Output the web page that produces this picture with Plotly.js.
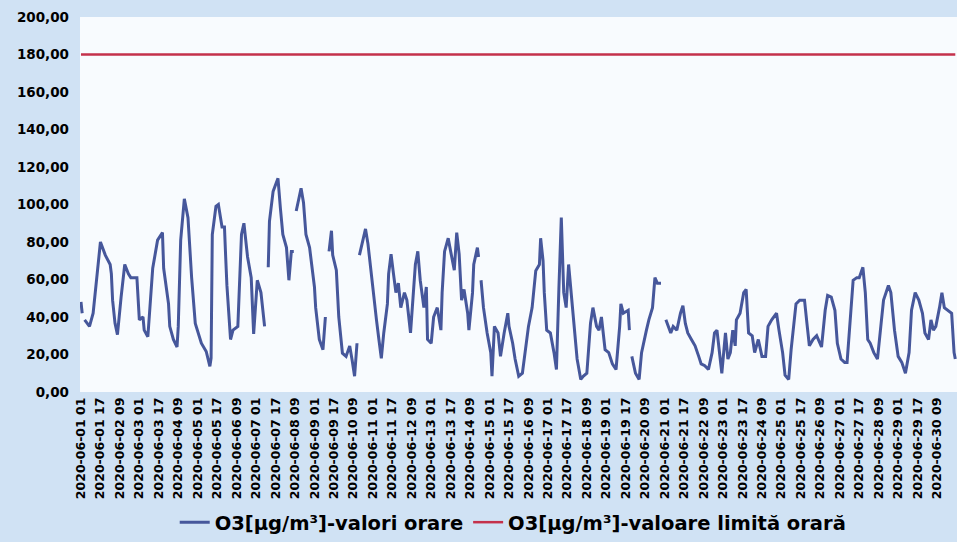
<!DOCTYPE html>
<html>
<head>
<meta charset="utf-8">
<script src="https://cdn.plot.ly/plotly-3.0.1.min.js"></script>
<style>html,body{margin:0;padding:0;background:#d0e2f4;}#chart{width:957px;height:542px;}</style>
</head>
<body>
<div id="chart"></div>
<script>
// Hourly O3 readings (µg/m³), June 2020 – times as "MM-DD HH"; null = missing hours
const obsTime = [
"06-01 01","06-01 02","06-01 03","06-01 04","06-01 08","06-01 11","06-01 14","06-01 17","06-01 21",
"06-02 01","06-02 02","06-02 03","06-02 05","06-02 07","06-02 10","06-02 13","06-02 16","06-02 18","06-02 23",
"06-03 01","06-03 04","06-03 05","06-03 08","06-03 10","06-03 12","06-03 16","06-03 20","06-03 21",
"06-04 01","06-04 02","06-04 05","06-04 08","06-04 09","06-04 11","06-04 14","06-04 17","06-04 20","06-04 23",
"06-05 04","06-05 08","06-05 11","06-05 12","06-05 13","06-05 16","06-05 18","06-05 21","06-05 23",
"06-06 00","06-06 01","06-06 04","06-06 06","06-06 10","06-06 13","06-06 15","06-06 18","06-06 21","06-06 23",
"06-07 02","06-07 05","06-07 08","06-07 09","06-07 11","06-07 12","06-07 15","06-07 19","06-07 21","06-07 23",
"06-08 02","06-08 04","06-08 06","06-08 08","06-08 09","06-08 10","06-08 14","06-08 16","06-08 18","06-08 21",
"06-09 01","06-09 02","06-09 05","06-09 08","06-09 10","06-09 11","06-09 13","06-09 15","06-09 16","06-09 19","06-09 21",
"06-10 00","06-10 03","06-10 06","06-10 08","06-10 10","06-10 12","06-10 13","06-10 14","06-10 17","06-10 19","06-10 21",
"06-11 00","06-11 04","06-11 06","06-11 08","06-11 10","06-11 13","06-11 14","06-11 16","06-11 18","06-11 20","06-11 22",
"06-12 00","06-12 03","06-12 05","06-12 08","06-12 10","06-12 12","06-12 14","06-12 16","06-12 19","06-12 21","06-12 22",
"06-13 01","06-13 03","06-13 06","06-13 09","06-13 10","06-13 12","06-13 15","06-13 17","06-13 20","06-13 22",
"06-14 00","06-14 02","06-14 04","06-14 07","06-14 08","06-14 11","06-14 12","06-14 15","06-14 16","06-14 17","06-14 18","06-14 20","06-14 23",
"06-15 02","06-15 03","06-15 05","06-15 08","06-15 10","06-15 13","06-15 16","06-15 17","06-15 20","06-15 22",
"06-16 01","06-16 04","06-16 06","06-16 09","06-16 12","06-16 15","06-16 18","06-16 19","06-16 21","06-16 22",
"06-17 00","06-17 03","06-17 06","06-17 08","06-17 10","06-17 12","06-17 14","06-17 16","06-17 18","06-17 20","06-17 22",
"06-18 01","06-18 04","06-18 06","06-18 09","06-18 12","06-18 14","06-18 17","06-18 19","06-18 21",
"06-19 00","06-19 03","06-19 06","06-19 09","06-19 12","06-19 13","06-19 15","06-19 19","06-19 20","06-19 21","06-19 22",
"06-20 01","06-20 04","06-20 06","06-20 10","06-20 12","06-20 15","06-20 17","06-20 19","06-20 22","06-20 23",
"06-21 02","06-21 06","06-21 08","06-21 11","06-21 14","06-21 16","06-21 18","06-21 20","06-21 23",
"06-22 02","06-22 05","06-22 07","06-22 10","06-22 13","06-22 16","06-22 18","06-22 20","06-22 23",
"06-23 00","06-23 03","06-23 05","06-23 07","06-23 09","06-23 11","06-23 12","06-23 15","06-23 18","06-23 20","06-23 22",
"06-24 01","06-24 03","06-24 06","06-24 09","06-24 12","06-24 14","06-24 17","06-24 21","06-24 23",
"06-25 02","06-25 04","06-25 07","06-25 09","06-25 11","06-25 13","06-25 16","06-25 20","06-25 22",
"06-26 00","06-26 03","06-26 06","06-26 10","06-26 13","06-26 15","06-26 18","06-26 21","06-26 23",
"06-27 02","06-27 05","06-27 07","06-27 09","06-27 12","06-27 15","06-27 17","06-27 20","06-27 22",
"06-28 00","06-28 02","06-28 05","06-28 08","06-28 11","06-28 13","06-28 17","06-28 19","06-28 22",
"06-29 01","06-29 04","06-29 07","06-29 10","06-29 12","06-29 15","06-29 18","06-29 21","06-29 23",
"06-30 02","06-30 04","06-30 06","06-30 08","06-30 11","06-30 13","06-30 15","06-30 18","06-30 21","06-30 23",
"07-01 00"
];
const o3Values = [
48,42,null,38.5,35,42,61,80,73,
68,63,49,36.6,30.6,50.6,68,63,61,61,
38.5,40,33,29.5,50,66,81,85,66,
47,35,28,24,35,81,103,93,61,36.6,
26,21.6,13.7,18,84,99,100,88,88,
72,57,28,33,35,84,90,72,61,31,
59.6,53,35,null,66.5,91,107,114,98,84,
77,59.6,75,75,null,96.5,108.7,101,84,77,
56,45,28,22.6,40,null,75,86,73,65,40,
20.7,19,24.6,17,8.4,26,null,73,80.6,87,79,
60,38.5,28,18,31.5,47,63,73.5,63,53,58,
45,53,49,31.5,53,68,75,59.6,45,56,28,
26,40,45,33,53,75,82,75,65,85,
73.5,49,54.7,42,33,53,68,77,72,null,59.6,45,31.5,
21,8.4,35,31.5,19,31.5,42,35,26,17.6,
8.4,10,19,35,45,64.7,68,82,70,53,
33,31.5,21,12,54.7,93,53,45,68,53,40,
17.6,6.7,8.4,10,36.6,45,35,33,40,
22.6,21,15,12,35,47,42,43.6,33,null,19,
10,6.7,21,33,38.5,45,61,58,58,null,
38.5,31.5,35,33,42,46,36.6,31.5,28,
24.6,19,15,14,12,21,31.5,33,17.6,
10,31.5,17.6,21,33,24.6,38.5,42,53,54.7,31.5,
30,21,28,19,19,35,38.5,42,33,
21,9,6.7,22.6,36.6,47,49,49,36.6,
24.6,28,30,24,43.6,51.5,50.6,43.6,26,
17.6,15.8,15.8,35,59.6,61,61,66.5,53,
28,26,21,17.6,36.6,49,56.8,53,33,
19,15.8,10,21,43.6,53,49,42,31.5,
28,38.5,33,35,45,53,45,43.6,42,21,
17.6
];
// Hourly limit value
const limitTime = ["06-01 01","07-01 00"];
const limitValue = [180,180];

const yTickVals = [0,20,40,60,80,100,120,140,160,180,200];
const yTickText = ["0,00","20,00","40,00","60,00","80,00","100,00","120,00","140,00","160,00","180,00","200,00"];

const seriesNames = ["O3[µg/m³]-valori orare","O3[µg/m³]-valoare limită orară"];

const toDate = t => "2020-" + t + ":00";

const traces = [
  {
    type: "scatter", mode: "lines",
    x: obsTime.map(toDate), y: o3Values,
    name: seriesNames[0],
    connectgaps: false,
    line: {color: "#46579b", width: 3}
  },
  {
    type: "scatter", mode: "lines",
    x: limitTime.map(toDate), y: limitValue,
    name: seriesNames[1],
    line: {color: "#c4314b", width: 2.5}
  }
];

const bold = {family: "DejaVu Sans, Liberation Sans, Arial, sans-serif", color: "#000", weight: "bold"};

const layout = {
  width: 957, height: 542,
  margin: {l: 80, r: 0, t: 17, b: 146, pad: 0},
  paper_bgcolor: "#d0e2f4",
  plot_bgcolor: "#f8fbfe",
  showlegend: true,
  legend: {
    orientation: "h", x: 0.108, xanchor: "left", y: -0.348, yanchor: "middle",
    font: Object.assign({size: 19.5}, bold), bgcolor: "rgba(0,0,0,0)"
  },
  xaxis: {
    type: "date",
    range: ["2020-06-01 00:12", "2020-07-01 01:24"],
    tick0: "2020-06-01 01:00", dtick: 16 * 3600 * 1000,
    tickformat: "%Y-%m-%d %H",
    tickangle: -90,
    tickfont: Object.assign({size: 12.5}, bold),
    showgrid: false, zeroline: false, showline: false, ticks: "",
    automargin: false, ticklabelstandoff: 2
  },
  yaxis: {
    range: [0, 200],
    tickvals: yTickVals, ticktext: yTickText,
    tickfont: Object.assign({size: 13.5}, bold),
    showgrid: false, zeroline: false, showline: false, ticks: "",
    automargin: false, ticklabelstandoff: 10
  }
};

Plotly.newPlot("chart", traces, layout, {staticPlot: true, displayModeBar: false});
</script>
</body>
</html>
